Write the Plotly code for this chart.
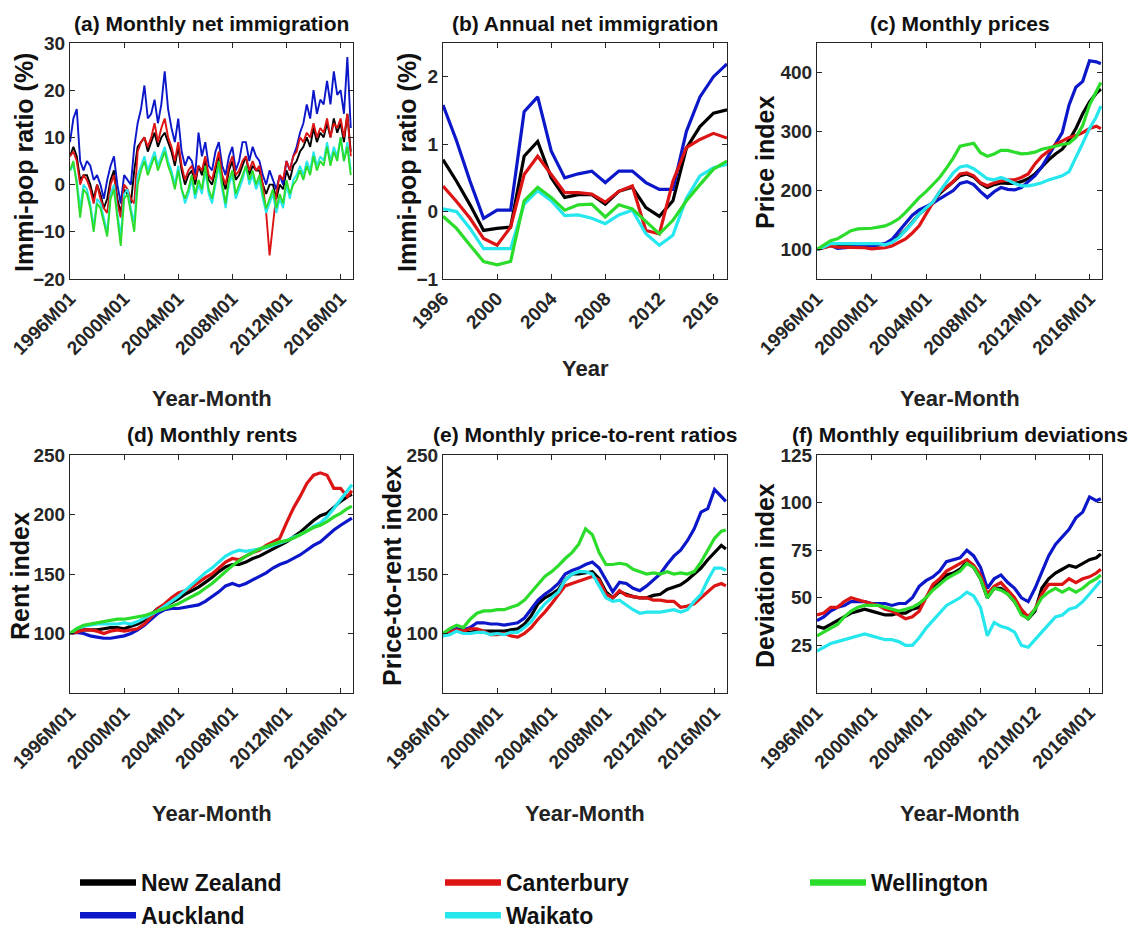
import plotly.graph_objects as go

W, H = 1134, 929
FONT = "Liberation Sans, Arial, sans-serif"

names = ["New Zealand", "Auckland", "Canterbury", "Waikato", "Wellington"]
colors = ["#000000", "#0b17c9", "#dd1414", "#26e6ee", "#2bdc2b"]

# month index (0 = 1996M01)
months_q = list(range(0, 250, 3))
months_h = list(range(0, 247, 6)) + [250]
years = list(range(1996, 2018))

month_ticks = [0, 48, 96, 144, 192, 240]
month_labels = ["1996M01", "2000M01", "2004M01", "2008M01", "2012M01", "2016M01"]
month_labels_f = ["1996M01", "2000M01", "2004M01", "2008M01", "201M012", "2016M01"]
year_ticks = [1996, 2000, 2004, 2008, 2012, 2016]

# (a) monthly net immigration (%), quarterly readings
a_nz = [6,8,6,1, 2,2,0,-3, 0,-2,-5,-3, 1,3,-3,-6, -1,-2,-4,3, 8,9,10,7, 9,11,8,10, 11,9,7,4,
        8,3,0,2, 3,0,4,2, 5,1,0,3, 6,1,-1,3, 5,1,2,4, 6,2,4,3, 3,0,-2,0, 0,-3,0,-1, 3,1,4,5,
        7,8,10,8, 12,9,11,10, 13,10,14,11, 13,9,15,7]
a_auck = [9,14,16,5, 3,5,4,1, 2,0,-3,1, 4,6,0,-4, 2,1,0,8, 13,16,21,14, 15,18,13,17, 24,16,12,9,
          14,7,4,6, 5,2,11,6, 9,4,3,7, 9,4,2,6, 8,3,5,9, 9,5,8,6, 5,2,0,3, 1,-1,2,0, 5,3,6,8,
          11,13,17,14, 20,15,18,17, 22,17,24,19, 20,15,27,12]
a_cant = [6,7,5,0, 2,1,-1,-4, 0,-3,-5,-6, 0,2,-4,-7, 0,-1,-3,-4, 7,9,10,8, 10,13,9,12, 14,10,8,5,
          9,4,1,3, 4,1,4,3, 6,2,1,4, 7,2,0,4, 6,2,3,5, 6,3,5,3, 4,0,-6,-15, -9,-2,2,1, 5,3,6,7,
          10,9,11,10, 13,10,12,11, 14,10,13,12, 14,10,15,6]
a_waik = [3,4,1,-5, 0,-1,-4,-9, -3,-4,-7,-10, -2,0,-6,-11, -2,-1,-5,-8, 2,4,6,3, 5,7,4,6, 8,5,3,0,
          4,-1,-4,-2, 1,-3,0,-2, 3,-2,-4,0, 4,-1,-5,0, 2,-3,-1,1, 4,0,2,-1, 1,-3,-6,-4, -2,-6,-3,-5,
          0,-3,1,2, 4,2,5,3, 7,4,6,5, 9,5,8,6, 10,5,9,3]
a_well = [3,5,0,-7, -1,-2,-5,-10, -4,-5,-8,-11, -3,-1,-7,-13, -3,-2,-6,-10, 0,3,5,2, 4,6,3,5, 7,4,2,-1,
          3,-1,-3,-1, 2,-2,1,-1, 4,-1,-3,1, 5,0,-4,1, 3,-2,0,2, 4,1,3,0, 2,-2,-5,-3, -1,-5,-2,-4,
          1,-2,0,1, 3,1,4,2, 6,3,5,4, 8,4,7,5, 10,5,8,2]

# (b) annual net immigration (%)
b_nz = [0.77,0.45,0.1,-0.28,-0.25,-0.23,0.82,1.04,0.5,0.21,0.25,0.25,0.11,0.3,0.36,0.06,-0.07,0.16,0.94,1.26,1.46,1.51]
b_auck = [1.58,1.05,0.45,-0.1,0.02,0.02,1.48,1.70,0.9,0.5,0.56,0.6,0.43,0.6,0.6,0.43,0.33,0.33,1.19,1.7,2.0,2.19]
b_cant = [0.38,0.15,-0.1,-0.4,-0.5,-0.23,0.55,0.82,0.55,0.28,0.28,0.26,0.14,0.3,0.38,-0.28,-0.33,0.45,0.95,1.07,1.16,1.09]
b_waik = [0.04,0.0,-0.25,-0.55,-0.55,-0.55,0.11,0.31,0.16,-0.06,-0.05,-0.1,-0.18,-0.05,0.02,-0.33,-0.5,-0.35,0.2,0.53,0.65,0.7]
b_well = [-0.07,-0.25,-0.5,-0.74,-0.79,-0.74,0.16,0.36,0.21,0.02,0.1,0.11,-0.08,0.1,0.04,-0.15,-0.33,-0.13,0.16,0.4,0.63,0.75]

# (c) monthly prices, half-yearly readings
c_nz = [100,104,108,105,106,107,107,107,107,108,109,113,122,133,146,160,170,180,195,205,215,225,228,223,212,205,210,213,212,212,215,220,228,240,252,262,270,285,305,330,350,365,372]
c_auck = [100,103,107,102,103,105,105,106,106,108,110,117,130,145,158,167,172,178,186,193,200,212,215,210,198,188,198,205,202,201,205,215,225,240,260,280,298,345,375,385,420,418,415]
c_cant = [100,103,106,104,104,104,103,103,101,102,103,106,112,118,128,140,160,180,198,205,215,228,230,225,213,208,213,216,218,218,222,228,245,258,267,278,284,290,293,298,305,309,305]
c_waik = [100,104,110,110,111,111,110,110,111,110,108,112,120,132,145,160,170,180,198,215,230,240,242,237,228,220,218,222,218,212,208,208,210,213,218,222,225,232,255,280,305,325,343]
c_well = [100,108,115,118,125,132,135,135,136,138,140,145,152,163,175,188,198,210,222,238,255,275,278,280,264,258,262,268,268,265,262,263,265,270,272,275,278,280,290,310,345,368,383]

# (d) monthly rents
d_nz = [100,102,103,103,103,104,105,105,104,106,108,111,116,121,123,126,129,133,136,139,143,147,152,156,158,158,160,163,165,168,171,174,177,181,185,190,195,199,201,206,211,215,217]
d_auck = [100,101,100,98,97,96,96,97,98,100,103,107,112,117,120,121,121,122,123,124,127,131,135,140,142,140,142,145,148,151,155,158,160,163,166,170,174,177,182,187,191,195,197]
d_cant = [100,101,103,103,102,100,102,103,102,103,104,108,114,121,125,130,134,136,139,143,147,150,155,160,163,162,165,168,170,174,177,180,193,205,215,226,233,235,233,222,222,215,220]
d_waik = [100,104,106,107,108,108,108,108,109,108,110,113,116,119,123,127,131,136,141,146,151,155,160,165,168,170,169,170,171,172,174,176,178,181,183,186,190,193,198,205,212,220,225]
d_well = [100,104,107,108,109,110,111,112,112,113,114,115,117,119,121,123,125,128,131,134,138,142,147,152,157,161,165,168,171,173,175,177,178,180,183,186,189,191,194,198,201,205,207]

# (e) monthly price-to-rent ratios
e_nz = [98,101,103,101,101,102,102,102,102,102,103,104,108,115,125,130,133,137,145,150,150,151,152,146,135,130,135,133,131,130,130,132,133,137,139,141,145,150,155,162,168,174,171]
e_auck = [98,102,104,103,105,109,109,108,108,107,108,109,113,120,128,133,137,142,150,153,155,158,160,155,145,135,143,142,138,136,140,145,150,158,165,170,178,188,202,205,221,215,211]
e_cant = [98,101,103,102,104,104,102,99,99,100,98,97,100,105,112,118,125,132,140,142,144,146,148,145,133,130,136,132,131,130,130,128,128,127,127,122,123,125,130,135,140,142,140]
e_waik = [98,99,102,100,100,101,101,99,100,99,101,101,105,110,118,125,130,135,145,150,152,152,150,140,130,127,128,124,120,117,118,118,118,119,120,118,120,127,133,145,155,155,153]
e_well = [100,104,107,105,112,117,119,119,120,120,122,124,128,135,142,148,152,157,163,168,175,188,183,168,158,158,159,158,154,152,150,151,150,152,150,151,150,152,160,170,180,186,187]

# (f) monthly equilibrium deviations
f_nz = [35,34,36,38,40,42,43,44,43,42,41,41,42,42,44,45,50,55,58,62,63,65,69,66,60,50,55,55,52,48,42,39,43,55,60,63,65,67,66,68,70,71,73]
f_auck = [38,40,43,45,46,48,48,48,47,47,47,46,47,47,50,56,59,61,64,69,70,71,75,72,66,55,60,62,58,55,50,48,55,63,72,78,82,86,92,95,103,101,102]
f_cant = [41,42,45,45,48,50,49,48,47,46,44,43,41,39,40,43,50,57,60,64,66,68,70,67,62,52,56,58,54,50,44,40,44,52,57,57,57,60,58,60,61,63,65]
f_waik = [22,24,26,27,28,29,30,31,30,29,28,28,27,25,25,29,34,38,42,46,48,50,53,51,45,30,37,35,34,32,25,24,28,32,36,40,41,44,45,48,52,56,59]
f_well = [30,32,34,36,40,43,45,46,46,46,45,44,43,44,45,47,50,54,57,60,62,64,68,66,60,50,55,54,52,48,41,39,44,50,53,55,53,55,53,55,58,60,62]


def px_x(p):
    return p / W


def px_y(p):
    return 1 - p / H


panels = [
    dict(key="", x=months_q, series=[a_nz, a_auck, a_cant, a_waik, a_well], xr=[0, 251], yr=[-20, 30],
         yt=[-20, -10, 0, 10, 20, 30], xt=month_ticks, xl=month_labels, dom_x=(70, 353), dom_y=(43, 279),
         title="(a) Monthly net immigration", ytitle="Immi-pop ratio (%)", yoff=46, xtitle="Year-Month", lw=1.9),
    dict(key="2", x=years, series=[b_nz, b_auck, b_cant, b_waik, b_well], xr=[1996, 2017], yr=[-1, 2.5],
         yt=[-1, 0, 1, 2], xt=year_ticks, xl=[str(v) for v in year_ticks], dom_x=(443, 727), dom_y=(43, 279),
         title="(b) Annual net immigration", ytitle="Immi-pop ratio (%)", yoff=36, xtitle="Year", lw=3.2),
    dict(key="3", x=months_h, series=[c_nz, c_auck, c_cant, c_waik, c_well], xr=[0, 251], yr=[50, 450],
         yt=[100, 200, 300, 400], xt=month_ticks, xl=month_labels, dom_x=(817, 1102), dom_y=(43, 279),
         title="(c) Monthly prices", ytitle="Price index", yoff=52, xtitle="Year-Month", lw=3.2),
    dict(key="4", x=months_h, series=[d_nz, d_auck, d_cant, d_waik, d_well], xr=[0, 251], yr=[50, 250],
         yt=[100, 150, 200, 250], xt=month_ticks, xl=month_labels, dom_x=(70, 353), dom_y=(455, 693),
         title="(d) Monthly rents", ytitle="Rent index", yoff=50, xtitle="Year-Month", lw=3.2),
    dict(key="5", x=months_h, series=[e_nz, e_auck, e_cant, e_waik, e_well], xr=[0, 251], yr=[50, 250],
         yt=[100, 150, 200, 250], xt=month_ticks, xl=month_labels, dom_x=(443, 727), dom_y=(455, 693),
         title="(e) Monthly price-to-rent ratios", ytitle="Price-to-rent index", yoff=51, xtitle="Year-Month", lw=3.2),
    dict(key="6", x=months_h, series=[f_nz, f_auck, f_cant, f_waik, f_well], xr=[0, 251], yr=[0, 125],
         yt=[25, 50, 75, 100, 125], xt=month_ticks, xl=month_labels_f, dom_x=(817, 1102), dom_y=(455, 693),
         title="(f) Monthly equilibrium deviations", ytitle="Deviation index", yoff=52, xtitle="Year-Month", lw=3.2),
]

TICK_COLOR = "#262626"
fig = go.Figure()
annotations = []
layout = {}

for p in panels:
    k = p["key"]
    for name, col, ys in zip(names, colors, p["series"]):
        fig.add_trace(go.Scatter(x=p["x"], y=ys, mode="lines", name=name, showlegend=False,
                                 line=dict(color=col, width=p["lw"]),
                                 xaxis="x" + k, yaxis="y" + k))
    common = dict(showline=True, linecolor=TICK_COLOR, linewidth=1, mirror="ticks", ticks="inside",
                  ticklen=5, tickcolor=TICK_COLOR, showgrid=False, zeroline=False, automargin=False)
    layout["xaxis" + k] = dict(domain=[px_x(p["dom_x"][0]), px_x(p["dom_x"][1])], range=p["xr"],
                               tickmode="array", tickvals=p["xt"], ticktext=p["xl"], tickangle=-45,
                               anchor="y" + k,
                               tickfont=dict(family=FONT, size=19, color=TICK_COLOR, weight="bold"),
                               **common)
    layout["yaxis" + k] = dict(domain=[px_y(p["dom_y"][1]), px_y(p["dom_y"][0])], range=p["yr"],
                               tickmode="array", tickvals=p["yt"], anchor="x" + k,
                               tickfont=dict(family=FONT, size=19, color=TICK_COLOR, weight="bold"),
                               **common)
    cx = (p["dom_x"][0] + p["dom_x"][1]) / 2
    top = p["dom_y"][0]
    bottom = p["dom_y"][1]
    annotations.append(dict(text=p["title"], x=px_x(cx), y=px_y(top - 20), xref="paper", yref="paper",
                            showarrow=False, xanchor="center", yanchor="middle",
                            font=dict(family=FONT, size=21, color="#111111", weight="bold")))
    annotations.append(dict(text=p["ytitle"], x=px_x(p["dom_x"][0] - p["yoff"]), y=px_y((top + bottom) / 2 + 2),
                            xref="paper", yref="paper", showarrow=False, textangle=-90,
                            xanchor="center", yanchor="middle",
                            font=dict(family=FONT, size=25, color="#111111", weight="bold")))
    xt_y = bottom + (89 if p["xtitle"] == "Year" else 120)
    annotations.append(dict(text=p["xtitle"], x=px_x(cx), y=px_y(xt_y), xref="paper", yref="paper",
                            showarrow=False, xanchor="center", yanchor="middle",
                            font=dict(family=FONT, size=22, color="#222222", weight="bold")))

# legend entries (three columns)
legend_map = {"New Zealand": "legend", "Auckland": "legend",
              "Canterbury": "legend2", "Waikato": "legend2", "Wellington": "legend3"}
for name, col in zip(names, colors):
    fig.add_trace(go.Scatter(x=[None], y=[None], mode="lines", name=name, showlegend=True,
                             legend=legend_map[name], line=dict(color=col, width=6.5),
                             xaxis="x2", yaxis="y2"))

leg_font = dict(family=FONT, size=23, color="#111111", weight="bold")
leg_common = dict(orientation="v", yanchor="top", xanchor="left", font=leg_font, itemwidth=56,
                  bgcolor="rgba(0,0,0,0)", tracegroupgap=0)
layout["legend"] = dict(x=px_x(75), y=px_y(861), **leg_common)
layout["legend2"] = dict(x=px_x(440), y=px_y(861), **leg_common)
layout["legend3"] = dict(x=px_x(805), y=px_y(861), **leg_common)

fig.update_layout(template="none", width=W, height=H,
                  margin=dict(l=0, r=0, t=0, b=0, autoexpand=False),
                  paper_bgcolor="white", plot_bgcolor="white",
                  annotations=annotations, **layout)
fig.write_html("out.html")
